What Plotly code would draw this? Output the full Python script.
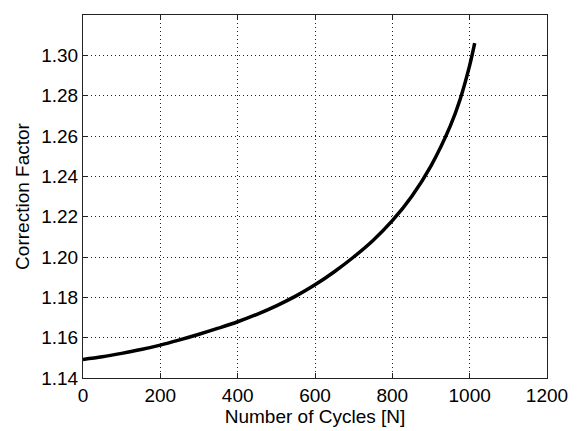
import plotly.graph_objects as go

cycles = [0, 50, 100, 150, 200, 250, 300, 350, 400, 450, 500, 550, 600, 650,
          700, 750, 800, 850, 900, 950, 975, 1000, 1013]
factor = [1.1492, 1.1505, 1.1522, 1.1541, 1.1563, 1.1589, 1.1617, 1.1647, 1.1679,
          1.1716, 1.1758, 1.1806, 1.1862, 1.1927, 1.2000, 1.2082, 1.2180, 1.2300,
          1.2452, 1.2650, 1.2780, 1.2950, 1.3060]

x_ticks = [0, 200, 400, 600, 800, 1000, 1200]
y_ticks = [1.14, 1.16, 1.18, 1.20, 1.22, 1.24, 1.26, 1.28, 1.30, 1.32]
y_labels = ["%.2f" % v for v in y_ticks]

fig = go.Figure()
fig.add_trace(go.Scatter(x=cycles, y=factor, mode="lines",
                         line=dict(color="black", width=3.5, shape="spline", smoothing=1.0),
                         showlegend=False))

font = dict(family="Liberation Sans, Arial, sans-serif", size=19, color="black")
axis_common = dict(showline=True, linecolor="#222", linewidth=1, mirror="ticks",
                   ticks="inside", ticklen=5, tickcolor="#222",
                   showgrid=True, gridcolor="#222", griddash="1px,3px", gridwidth=1,
                   zeroline=False, tickfont=font, automargin=False)

# page body has an 8px default margin, so the figure is sized and offset to match
fig.update_layout(
    width=569, height=423,
    margin=dict(l=75, r=30, t=7, b=53),
    paper_bgcolor="white", plot_bgcolor="white",
    font=font,
    xaxis=dict(range=[0, 1200], tickvals=x_ticks, ticktext=[str(v) for v in x_ticks],
               title=dict(text="Number of Cycles [N]", font=font, standoff=4),
               **axis_common),
    yaxis=dict(range=[1.14, 1.32], tickvals=y_ticks, ticktext=y_labels,
               title=dict(text="Correction Factor", font=font, standoff=6),
               **axis_common),
)

fig.write_html("out.html")
